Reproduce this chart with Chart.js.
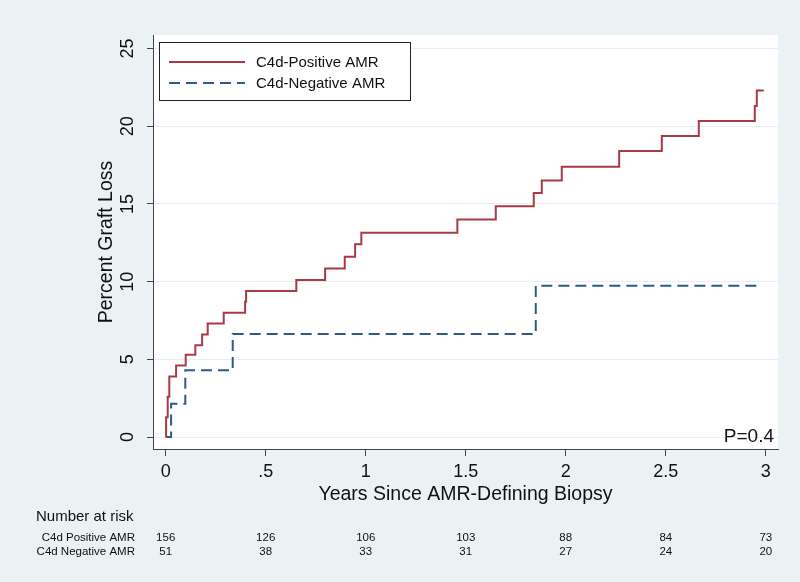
<!DOCTYPE html>
<html>
<head>
<meta charset="utf-8">
<script src="https://cdn.jsdelivr.net/npm/chart.js@4/dist/chart.umd.min.js"></script>
<style>
html,body{margin:0;padding:0;background:#eaf2f3;}
canvas{display:block;}
</style>
</head>
<body>
<canvas id="c" width="800" height="582"></canvas>
<script>
// ---- data ----
const posTimes  = [0, 0.002, 0.010, 0.018, 0.052, 0.100, 0.148, 0.182, 0.210, 0.290, 0.397, 0.402, 0.653, 0.797, 0.895, 0.947, 0.978, 1.458, 1.650, 1.840, 1.880, 1.980, 2.267, 2.480, 2.665, 2.945, 2.955, 2.990];
const posValues = [0, 1.27, 2.60, 3.90, 4.60, 5.30, 5.90, 6.60, 7.30, 8.00, 8.70, 9.40, 10.10, 10.85, 11.60, 12.40, 13.15, 14.00, 14.85, 15.70, 16.50, 17.40, 18.40, 19.37, 20.33, 21.30, 22.30, 22.30];
const negTimes  = [0, 0.027, 0.098, 0.335, 1.850, 2.963];
const negValues = [0, 2.14, 4.29, 6.63, 9.74, 9.74];

const seriesNames = ["C4d-Positive AMR", "C4d-Negative AMR"];
const xTicks = [0, 0.5, 1, 1.5, 2, 2.5, 3];
const xTickLabels = ["0", ".5", "1", "1.5", "2", "2.5", "3"];
const yTicks = [0, 5, 10, 15, 20, 25];
const riskRowLabels = ["C4d Positive AMR", "C4d Negative AMR"];
const riskPositive = [156, 126, 106, 103, 88, 84, 73];
const riskNegative = [51, 38, 33, 31, 27, 24, 20];
const pValueText = "P=0.4";

const FONT = '"Liberation Sans", Arial, Helvetica, sans-serif';
const TXT = '#111111';
const RED = '#a83a45';
const BLUE = '#2d5a86';

function toPoints(ts, vs){ return ts.map((t,i)=>({x:t, y:vs[i]})); }

const textPlugin = {
  id: 'stataText',
  beforeDraw(chart){
    const ctx = chart.ctx, a = chart.chartArea;
    ctx.save();
    ctx.fillStyle = '#eaf2f3';
    ctx.fillRect(0,0,chart.width,chart.height);
    ctx.fillStyle = '#ffffff';
    ctx.fillRect(a.left, a.top, a.right-a.left, a.bottom-a.top);
    ctx.restore();
  },
  afterDraw(chart){
    const ctx = chart.ctx, a = chart.chartArea;
    const xs = chart.scales.x, ys = chart.scales.y;
    ctx.save();
    ctx.fillStyle = TXT;
    // y tick labels (rotated)
    ctx.font = '18px ' + FONT;
    ctx.textAlign = 'center';
    ctx.textBaseline = 'middle';
    yTicks.forEach(v=>{
      const py = ys.getPixelForValue(v);
      ctx.save();
      ctx.translate(128, py);
      ctx.rotate(-Math.PI/2);
      ctx.fillText(String(v), 0, 0);
      ctx.restore();
    });
    // y title
    ctx.font = '19.5px ' + FONT;
    ctx.save();
    ctx.translate(107, (a.top+a.bottom)/2);
    ctx.rotate(-Math.PI/2);
    ctx.fillText('Percent Graft Loss', 0, 0);
    ctx.restore();
    // x tick labels
    ctx.font = '18px ' + FONT;
    ctx.textBaseline = 'alphabetic';
    xTicks.forEach((v,i)=>{
      ctx.fillText(xTickLabels[i], xs.getPixelForValue(v), 477);
    });
    // x title
    ctx.font = '19.5px ' + FONT;
    ctx.fillText('Years Since AMR-Defining Biopsy', (a.left+a.right)/2, 500);
    // number at risk
    ctx.textAlign = 'left';
    ctx.font = '15px ' + FONT;
    ctx.fillText('Number at risk', 36, 521);
    ctx.font = '11.5px ' + FONT;
    ctx.textAlign = 'right';
    ctx.fillText(riskRowLabels[0], 135, 541);
    ctx.fillText(riskRowLabels[1], 135, 555);
    ctx.textAlign = 'center';
    xTicks.forEach((v,i)=>{
      const px = xs.getPixelForValue(v);
      ctx.fillText(String(riskPositive[i]), px, 541);
      ctx.fillText(String(riskNegative[i]), px, 555);
    });
    // p value
    ctx.font = '19px ' + FONT;
    ctx.textAlign = 'right';
    ctx.fillText(pValueText, 774, 442);
    // legend box
    const lx = 159.5, ly = 42.5, lw = 251, lh = 58;
    ctx.fillStyle = '#ffffff';
    ctx.fillRect(lx, ly, lw, lh);
    ctx.strokeStyle = '#222';
    ctx.lineWidth = 1;
    ctx.strokeRect(lx, ly, lw, lh);
    const sets = chart.data.datasets;
    const rowsY = [62, 83];
    sets.forEach((ds,i)=>{
      ctx.beginPath();
      ctx.strokeStyle = ds.borderColor;
      ctx.lineWidth = ds.borderWidth;
      ctx.setLineDash(ds.borderDash || []);
      ctx.moveTo(169, rowsY[i]);
      ctx.lineTo(245, rowsY[i]);
      ctx.stroke();
      ctx.setLineDash([]);
      ctx.fillStyle = TXT;
      ctx.font = '15px ' + FONT;
      ctx.textAlign = 'left';
      ctx.textBaseline = 'middle';
      ctx.fillText(ds.label, 256, rowsY[i]+1);
    });
    ctx.restore();
  }
};

new Chart(document.getElementById('c'), {
  type: 'line',
  data: {
    datasets: [
      { label: seriesNames[0], data: toPoints(posTimes, posValues), borderColor: RED, borderWidth: 2, stepped: 'before', pointRadius: 0, fill: false },
      { label: seriesNames[1], data: toPoints(negTimes, negValues), borderColor: BLUE, borderWidth: 2, borderDash: [11,6], stepped: 'before', pointRadius: 0, fill: false }
    ]
  },
  options: {
    responsive: false,
    animation: false,
    events: [],
    layout: { padding: { left: 153, top: 35, right: 22, bottom: 133 } },
    plugins: { legend: { display: false }, tooltip: { enabled: false }, title: { display: false } },
    scales: {
      x: {
        type: 'linear', min: -0.0635, max: 3.061,
        afterFit(s){ s.height = 0; },
        afterBuildTicks(s){ s.ticks = xTicks.map(v=>({value:v})); },
        ticks: { display: false },
        grid: { drawOnChartArea: false, drawTicks: true, tickLength: 7, tickColor: '#444', lineWidth: 1 },
        border: { display: true, color: '#444', width: 1 }
      },
      y: {
        type: 'linear', min: -0.77, max: 25.87,
        afterFit(s){ s.width = 0; },
        afterBuildTicks(s){ s.ticks = yTicks.map(v=>({value:v})); },
        ticks: { display: false },
        grid: { drawOnChartArea: true, color: '#e6eff1', drawTicks: true, tickLength: 6, tickColor: '#444', lineWidth: 1 },
        border: { display: true, color: '#444', width: 1 }
      }
    }
  },
  plugins: [textPlugin]
});
</script>
</body>
</html>
